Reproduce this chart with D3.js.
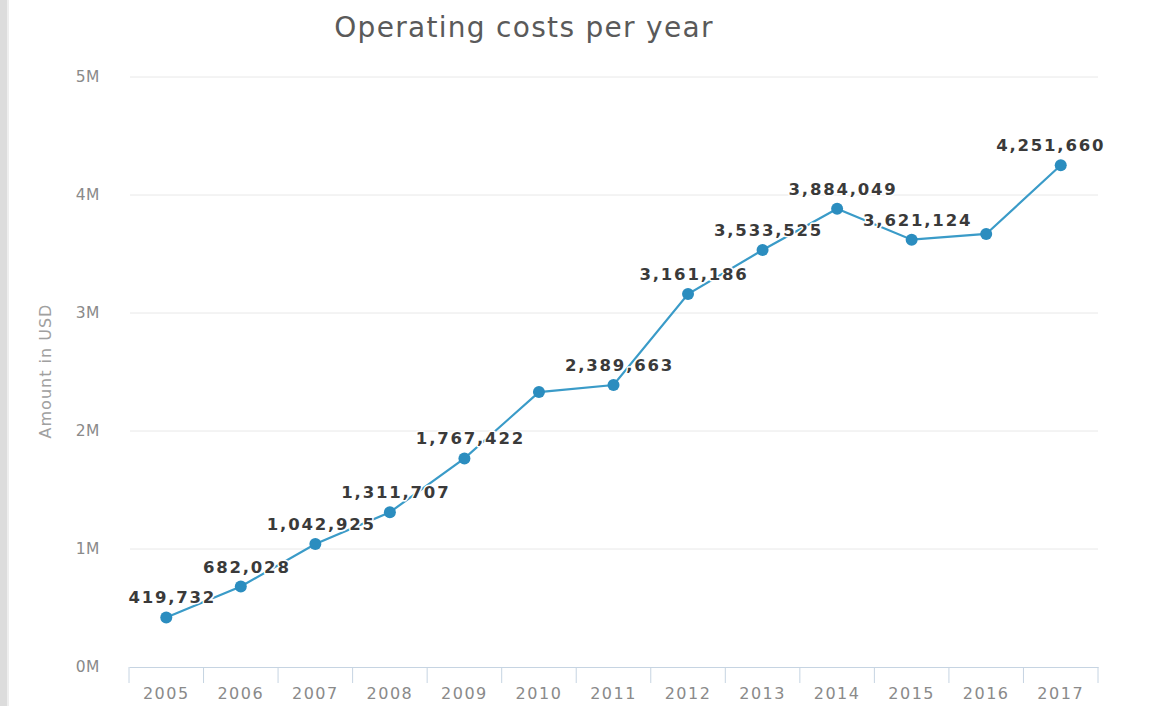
<!DOCTYPE html>
<html>
<head>
<meta charset="utf-8">
<script src="https://cdn.jsdelivr.net/npm/d3@7/dist/d3.min.js"></script>
<style>
  html, body { margin: 0; padding: 0; background: #fff; }
  svg { display: block; }
</style>
</head>
<body>
<svg id="chart" width="1149" height="706"></svg>
<script>
const years = ["2005","2006","2007","2008","2009","2010","2011","2012","2013","2014","2015","2016","2017"];
const costs = [419732, 682028, 1042925, 1311707, 1767422, 2330000, 2389663, 3161186, 3533525, 3884049, 3621124, 3670000, 4251660];
const showLabel = [true, true, true, true, true, false, true, true, true, true, true, false, true];
const yTicks = [0, 1000000, 2000000, 3000000, 4000000, 5000000];
const yTickLabels = ["0M", "1M", "2M", "3M", "4M", "5M"];
const chartTitle = "Operating costs per year";
const yTitle = "Amount in USD";

(function () {
const svg = d3.select("#chart");
const W = 1149, H = 706;
const pLeft = 129, pRight = 1098, pTop = 77, pBottom = 667;

// textured strip on left edge
svg.append("rect").attr("x", 0).attr("y", 0).attr("width", 7).attr("height", H).attr("fill", "#dcdcdc");
svg.append("rect").attr("x", 7).attr("y", 0).attr("width", 2).attr("height", H).attr("fill", "#eeeeee");

const x = d3.scaleBand().domain(years).range([pLeft, pRight]).padding(0);
const y = d3.scaleLinear().domain([0, 5000000]).range([pBottom, pTop]);
const cx = d => x(d) + x.bandwidth() / 2;

// gridlines
svg.append("g").selectAll("line").data(yTicks.slice(1)).join("line")
  .attr("x1", pLeft + 1).attr("x2", pRight)
  .attr("y1", d => y(d)).attr("y2", d => y(d))
  .attr("stroke", "#e8e8e8").attr("stroke-width", 1);

// y tick labels
svg.append("g").selectAll("text").data(yTicks).join("text")
  .attr("x", 100).attr("y", d => y(d) + 5)
  .attr("text-anchor", "end")
  .attr("font-family", "DejaVu Sans, sans-serif")
  .attr("font-size", 15.5).attr("fill", "#8a8a8a")
  .style("letter-spacing", "0.5px")
  .text((d, i) => yTickLabels[i]);

// x axis
const xAxis = d3.axisBottom(x).tickSizeInner(16).tickSizeOuter(0).tickFormat(() => "");
const gx = svg.append("g").attr("transform", `translate(0,${pBottom})`).call(xAxis);
gx.select(".domain").attr("stroke", "#c6d4e2");
gx.selectAll(".tick").remove();
const bounds = years.map(d => x(d)).concat([pRight]);
svg.append("g").selectAll("line").data(bounds).join("line")
  .attr("x1", d => d).attr("x2", d => d)
  .attr("y1", pBottom).attr("y2", pBottom + 16)
  .attr("stroke", "#c6d4e2").attr("stroke-width", 1);
svg.append("g").selectAll("text").data(years).join("text")
  .attr("x", d => cx(d)).attr("y", pBottom + 32)
  .attr("text-anchor", "middle")
  .attr("font-family", "DejaVu Sans, sans-serif")
  .attr("font-size", 16).attr("fill", "#8a8a8a")
  .style("letter-spacing", "1.5px")
  .text(d => d);

// title
svg.append("text").attr("x", 524).attr("y", 37).attr("text-anchor", "middle")
  .attr("font-family", "DejaVu Sans, sans-serif").attr("font-size", 28)
  .attr("fill", "#5a5a5a").style("letter-spacing", "1.3px").text(chartTitle);

// y title
svg.append("text").attr("transform", `translate(51,371) rotate(-90)`)
  .attr("text-anchor", "middle")
  .attr("font-family", "DejaVu Sans, sans-serif").attr("font-size", 16)
  .attr("fill", "#a0a0a0").style("letter-spacing", "1px").text(yTitle);

// line
const data = years.map((yr, i) => ({ yr, v: costs[i], show: showLabel[i] }));
const line = d3.line().x(d => cx(d.yr)).y(d => y(d.v));
svg.append("path").datum(data).attr("d", line)
  .attr("fill", "none").attr("stroke", "#3a9bc8").attr("stroke-width", 2.2);

svg.append("g").selectAll("circle").data(data).join("circle")
  .attr("cx", d => cx(d.yr)).attr("cy", d => y(d.v)).attr("r", 6)
  .attr("fill", "#2b8dbf");

// data labels
const fmt = d3.format(",");
svg.append("g").selectAll("text").data(data.filter(d => d.show)).join("text")
  .attr("x", d => {
    const px = cx(d.yr);
    return d.yr === "2017" ? px - 10 : px + 6;
  })
  .attr("y", d => y(d.v) - 14)
  .attr("text-anchor", "middle")
  .attr("font-family", "DejaVu Sans, sans-serif")
  .attr("font-size", 16.5).attr("font-weight", "bold")
  .attr("fill", "#3a3a3a")
  .attr("stroke", "#ffffff").attr("stroke-width", 3).attr("stroke-linejoin", "round")
  .style("paint-order", "stroke")
  .style("letter-spacing", "1.8px")
  .text(d => fmt(d.v));
})();
</script>
</body>
</html>
